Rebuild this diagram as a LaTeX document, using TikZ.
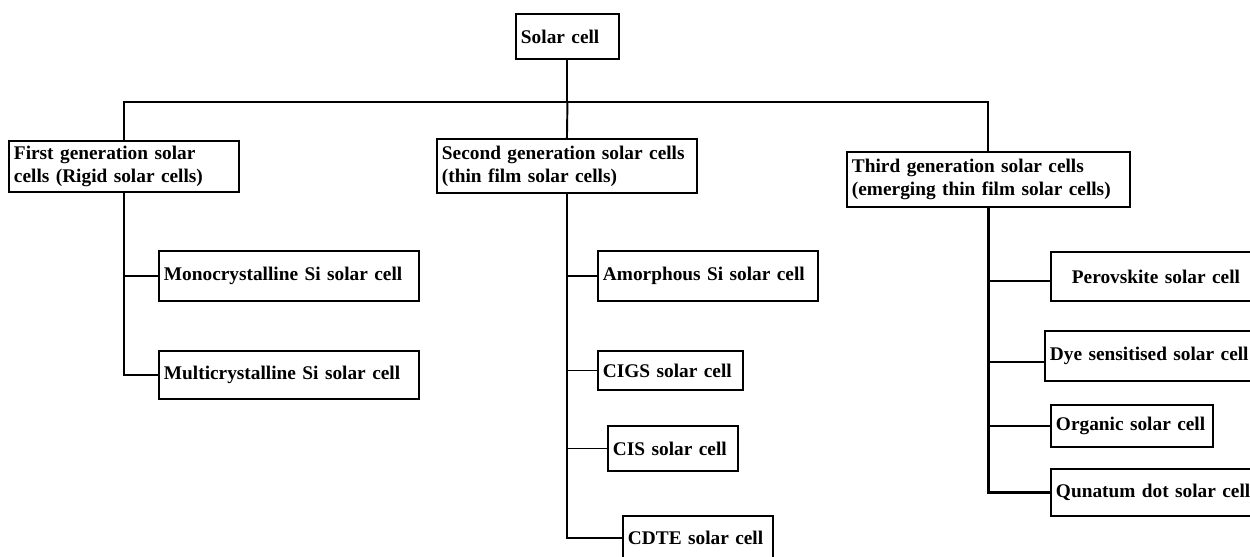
\documentclass[tikz,border=0pt]{standalone}
\usepackage{fontspec}
\setmainfont{Liberation Serif}
\usetikzlibrary{positioning}

\tikzset{
    cellbox/.style={draw, line width=1.1pt, anchor=north west, align=left,
        inner xsep=0.1cm, inner ysep=0pt, font=\fontsize{11}{13}\selectfont\bfseries},
    link/.style={line width=1.1pt}
}

\begin{document}
\begin{tikzpicture}[x=0.02cm, y=-0.02cm]
    \useasboundingbox (0,0) rectangle (1250,556);
    \clip (0,0) rectangle (1250,556);

    % Root node
    \node[cellbox, text width=1.86cm, minimum height=0.9cm] (root) at (515,13) {Solar cell};
    \path (root.south) ++(0,42) coordinate (bus);

    % Generation nodes
    \node[cellbox, text width=4.4cm, minimum height=1.02cm] (gen1) at (8,140)
        {First generation solar\\cells (Rigid solar cells)};
    \node[cellbox, text width=5cm, minimum height=1.08cm] (gen2) at (436,138)
        {Second generation solar cells\\(thin film solar cells)};
    \node[cellbox, text width=5.46cm, minimum height=1.1cm] (gen3) at (846,151)
        {Third generation solar cells\\(emerging thin film solar cells)};

    % Cell type nodes
    \foreach \nm/\x/\y/\w/\h/\txt in {
        mono/158/250/260/50/Monocrystalline Si solar cell,
        multi/158/350/260/48/Multicrystalline Si solar cell,
        amor/597/250/220/50/Amorphous Si solar cell,
        cigs/597/350/145/39/CIGS solar cell,
        cis/607/425/130/45/CIS solar cell,
        cdte/622/515/150/44/CDTE solar cell,
        dye/1044/330/230/50/Dye sensitised solar cell,
        org/1050/404/162/42/Organic solar cell,
        qd/1050/468/230/47/Qunatum dot solar cell} {
        \pgfmathsetlengthmacro{\tw}{(\w-10)*0.02cm}
        \pgfmathsetlengthmacro{\bh}{\h*0.02cm}
        \node[cellbox, text width=\tw, minimum height=\bh] (\nm) at (\x,\y) {\txt};
    }
    \node[cellbox, align=center, text width=4cm, minimum height=0.98cm] (perov) at (1050,251)
        {Perovskite solar cell};

    % Tree links
    \draw[link] (root.south) -- (bus);
    \draw[link] (gen1.north) |- (bus) -| (gen3.north);
    \draw[link] (bus) -- (gen2.north);
    \foreach \c in {mono, multi}
        \draw[link] (gen1.south) |- (\c.west);
    \foreach \c in {amor, cigs, cis, cdte}
        \draw[link] (gen2.south) |- (\c.west);
    \draw[link, line width=1.6pt] (gen3.south) |- (qd.west);
    \draw[link] (gen3.south) |- ([yshift=-0.09cm]perov.west);
    \draw[link] (gen3.south) |- ([yshift=-0.12cm]dye.west);
    \draw[link] (gen3.south) |- (org.west);
\end{tikzpicture}
\end{document}
